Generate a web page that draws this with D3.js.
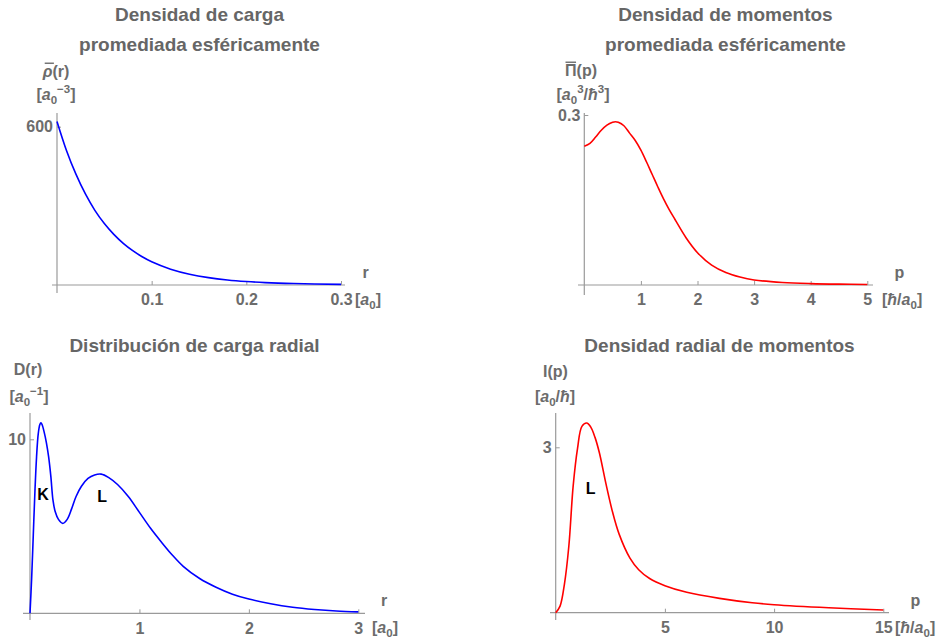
<!DOCTYPE html>
<html>
<head>
<meta charset="utf-8">
<script src="https://cdn.jsdelivr.net/npm/d3@7"></script>
<style>
  html, body { margin: 0; padding: 0; background: #fff; }
  svg { display: block; font-family: "Liberation Sans", Arial, Helvetica, sans-serif; font-weight: bold; }
</style>
</head>
<body>
<svg id="chart" width="941" height="642"></svg>
<script>
// Spherically averaged charge density  rho(r)  [a0^-3]
const rhoR   = [0, 0.01, 0.02, 0.03, 0.04, 0.05, 0.06, 0.07, 0.08, 0.09, 0.10, 0.12, 0.14, 0.16, 0.18, 0.20, 0.22, 0.25, 0.30];
const rhoVal = [620, 510, 420, 345, 283, 233, 192, 158, 130, 107, 88, 60, 41, 28, 19, 13, 9, 5.5, 2.5];

// Spherically averaged momentum density  Pi(p)  [a0^3/hbar^3]
const piP   = [0, 0.1, 0.2, 0.3, 0.4, 0.5, 0.55, 0.6, 0.7, 0.8, 0.9, 1.0, 1.1, 1.2, 1.3, 1.4, 1.5, 1.6, 1.8, 2.0, 2.25, 2.5, 2.75, 3.0, 3.5, 4.0, 4.5, 5.0];
const piVal = [0.245, 0.250, 0.261, 0.273, 0.282, 0.287, 0.288, 0.287, 0.281, 0.268, 0.255, 0.238, 0.217, 0.195, 0.173, 0.152, 0.133, 0.116, 0.083, 0.057, 0.035, 0.022, 0.014, 0.0088, 0.0045, 0.0025, 0.0015, 0.001];

// Radial charge distribution  D(r)  [a0^-1]
const dR   = [0, 0.015, 0.03, 0.045, 0.06, 0.075, 0.09, 0.10, 0.11, 0.13, 0.15, 0.17, 0.19, 0.21, 0.23, 0.26, 0.30, 0.34, 0.38, 0.42, 0.47, 0.53, 0.59, 0.65, 0.72, 0.80, 0.90, 1.0, 1.1, 1.2, 1.3, 1.4, 1.55, 1.7, 1.85, 2.0, 2.2, 2.4, 2.6, 2.8, 3.0];
const dVal = [0, 2.0, 4.5, 7.0, 9.0, 10.3, 10.85, 10.95, 10.85, 10.4, 9.8, 9.0, 7.9, 6.5, 5.85, 5.4, 5.17, 5.4, 6.0, 6.7, 7.3, 7.75, 7.95, 8.0, 7.8, 7.4, 6.7, 5.8, 4.9, 4.1, 3.35, 2.7, 2.0, 1.5, 1.1, 0.82, 0.55, 0.35, 0.22, 0.13, 0.08];

// Radial momentum density  I(p)  [a0/hbar]
const iP   = [0, 0.2, 0.4, 0.6, 0.8, 1.0, 1.2, 1.42, 1.6, 1.8, 2.0, 2.3, 2.6, 2.9, 3.4, 3.8, 4.3, 5.0, 6.0, 7.5, 9.0, 10.0, 12.5, 15.0];
const iVal = [0, 0.12, 0.52, 1.2, 2.3, 2.98, 3.38, 3.44, 3.37, 3.18, 2.9, 2.34, 1.83, 1.43, 0.99, 0.78, 0.62, 0.49, 0.37, 0.26, 0.18, 0.145, 0.09, 0.05];

// Tick values
const rhoXTicks = [0.1, 0.2, 0.3];
const rhoYTicks = [600];
const piXTicks  = [1, 2, 3, 4, 5];
const piYTicks  = [0.3];
const dXTicks   = [1, 2, 3];
const dYTicks   = [10];
const iXTicks   = [5, 10, 15];
const iYTicks   = [3];

// Shell labels
const dShells = [{ t: "K", r: 0.12, v: 6.5 }, { t: "L", r: 0.66, v: 6.4 }];
const iShells = [{ t: "L", p: 1.6, v: 2.15 }];

const svg = d3.select("#chart");
const TITLE = "#666666", LABEL = "#6c6c6c", AXIS = "#9a9a9a";

// Panel layouts
const panels = [
  { xs: rhoR, ys: rhoVal, color: "#0000ff", xDom: [0, 0.3], yDom: [0, 600], xRng: [57, 341], yRng: [285, 126.7],
    xTicks: rhoXTicks, yTicks: rhoYTicks, xFmt: d3.format(".1f"), yFmt: d3.format("d"),
    xLine: [52, 345], yLine: [113, 293],
    title: ["Densidad de carga", "promediada esféricamente"], titleX: 199.5, titleY: [21, 51],
    yName: [{ t: "ρ", it: true, over: true }, { t: "(r)" }], yNameX: 56, yNameY: 77,
    yUnit: [{ t: "[" }, { t: "a", it: true }, { t: "0", sub: true }, { t: "−3", sup: true }, { t: "]" }], yUnitX: 56, yUnitY: 100,
    xName: "r", xNameX: 365.5, xNameY: 278,
    xUnit: [{ t: "[" }, { t: "a", it: true }, { t: "0", sub: true }, { t: "]" }], xUnitX: 355, xUnitY: 305 },
  { xs: piP, ys: piVal, color: "#ff0000", xDom: [0, 5], yDom: [0, 0.3], xRng: [584.3, 867.3], yRng: [285, 115],
    xTicks: piXTicks, yTicks: piYTicks, xFmt: d3.format("d"), yFmt: d3.format(".1f"),
    xLine: [578, 873], yLine: [113, 295],
    title: ["Densidad de momentos", "promediada esféricamente"], titleX: 725.5, titleY: [21, 51],
    yName: [{ t: "Π", over: true }, { t: "(p)" }], yNameX: 581, yNameY: 76,
    yUnit: [{ t: "[" }, { t: "a", it: true }, { t: "0", sub: true }, { t: "3", sup: true }, { t: "/" }, { t: "ħ", it: true }, { t: "3", sup: true }, { t: "]" }], yUnitX: 583, yUnitY: 100,
    xName: "p", xNameX: 899.5, xNameY: 278,
    xUnit: [{ t: "[" }, { t: "ħ", it: true }, { t: "/" }, { t: "a", it: true }, { t: "0", sub: true }, { t: "]" }], xUnitX: 882, xUnitY: 305 },
  { xs: dR, ys: dVal, color: "#0000ff", xDom: [0, 3], yDom: [0, 10], xRng: [30, 358.3], yRng: [613.3, 439.3],
    xTicks: dXTicks, yTicks: dYTicks, xFmt: d3.format("d"), yFmt: d3.format("d"),
    xLine: [23, 365], yLine: [413, 620],
    title: ["Distribución de carga radial"], titleX: 194.5, titleY: [352],
    yName: [{ t: "D(r)" }], yNameX: 28, yNameY: 375,
    yUnit: [{ t: "[" }, { t: "a", it: true }, { t: "0", sub: true }, { t: "−1", sup: true }, { t: "]" }], yUnitX: 29, yUnitY: 402,
    xName: "r", xNameX: 384, xNameY: 606,
    xUnit: [{ t: "[" }, { t: "a", it: true }, { t: "0", sub: true }, { t: "]" }], xUnitX: 372, xUnitY: 633,
    shells: dShells.map(s => ({ t: s.t, x: s.r, y: s.v })) },
  { xs: iP, ys: iVal, color: "#ff0000", xDom: [0, 15], yDom: [0, 3], xRng: [555.7, 883.3], yRng: [612.7, 447.3],
    xTicks: iXTicks, yTicks: iYTicks, xFmt: d3.format("d"), yFmt: d3.format("d"),
    xLine: [550, 889], yLine: [413, 620],
    title: ["Densidad radial de momentos"], titleX: 719.5, titleY: [352],
    yName: [{ t: "I(p)" }], yNameX: 555.5, yNameY: 377,
    yUnit: [{ t: "[" }, { t: "a", it: true }, { t: "0", sub: true }, { t: "/" }, { t: "ħ", it: true }, { t: "]" }], yUnitX: 555, yUnitY: 402,
    xName: "p", xNameX: 915.5, xNameY: 606,
    xUnit: [{ t: "[" }, { t: "ħ", it: true }, { t: "/" }, { t: "a", it: true }, { t: "0", sub: true }, { t: "]" }], xUnitX: 895, xUnitY: 633,
    shells: iShells.map(s => ({ t: s.t, x: s.p, y: s.v })) }
];

// Rich text with italics, sub/superscripts and overlines
function richText(g, parts, x, y, size, anchor) {
  const text = g.append("text").attr("x", x).attr("y", y)
    .attr("fill", LABEL).attr("font-size", size).attr("text-anchor", anchor || "middle");
  let shift = 0;
  const overIdx = [];
  let charPos = 0;
  parts.forEach(p => {
    const ts = text.append("tspan").text(p.t);
    let target = 0, fs = size;
    if (p.sub) { target = size * 0.28; fs = size * 0.72; }
    if (p.sup) { target = -size * 0.42; fs = size * 0.72; }
    ts.attr("dy", target - shift).attr("font-size", fs);
    shift = target;
    if (p.it) ts.attr("font-style", "italic");
    if (p.over) overIdx.push(charPos);
    charPos += p.t.length;
  });
  overIdx.forEach(i => {
    const node = text.node();
    const s = node.getStartPositionOfChar(i), e = node.getEndPositionOfChar(i);
    g.append("line")
      .attr("x1", s.x + (parts[0].it ? 2 : 0.5)).attr("x2", e.x + (parts[0].it ? 1.5 : -0.5))
      .attr("y1", y - size * 0.86).attr("y2", y - size * 0.86)
      .attr("stroke", LABEL).attr("stroke-width", 1.4);
  });
  return text;
}

panels.forEach(P => {
  const g = svg.append("g");
  const x = d3.scaleLinear().domain(P.xDom).range(P.xRng);
  const y = d3.scaleLinear().domain(P.yDom).range(P.yRng);

  // axis lines
  const y0 = y(0), x0 = x(0);
  g.append("line").attr("x1", P.xLine[0]).attr("x2", P.xLine[1]).attr("y1", y0).attr("y2", y0)
    .attr("stroke", AXIS).attr("stroke-width", 1.2);
  g.append("line").attr("x1", x0).attr("x2", x0).attr("y1", P.yLine[0]).attr("y2", P.yLine[1])
    .attr("stroke", AXIS).attr("stroke-width", 1.2);

  // ticks and tick labels
  const xa = g.append("g").attr("transform", `translate(0,${y0})`)
    .call(d3.axisBottom(x).tickValues(P.xTicks).tickFormat(P.xFmt).tickSize(-4).tickPadding(9));
  const ya = g.append("g").attr("transform", `translate(${x0},0)`)
    .call(d3.axisLeft(y).tickValues(P.yTicks).tickFormat(P.yFmt).tickSize(-4).tickPadding(4));
  [xa, ya].forEach(a => {
    a.select(".domain").remove();
    a.selectAll("line").attr("stroke", AXIS).attr("stroke-width", 1);
    a.selectAll("text").attr("fill", LABEL).attr("font-size", 16)
      .attr("font-family", "Liberation Sans, Arial, sans-serif").attr("font-weight", "bold");
  });

  // curve
  const line = d3.line().x((d, i) => x(P.xs[i])).y(d => y(d)).curve(d3.curveCatmullRom.alpha(0.5));
  g.append("path").datum(P.ys).attr("d", line)
    .attr("fill", "none").attr("stroke", P.color).attr("stroke-width", 1.6);

  // titles
  P.title.forEach((t, i) => {
    g.append("text").attr("x", P.titleX).attr("y", P.titleY[i]).attr("text-anchor", "middle")
      .attr("fill", TITLE).attr("font-size", 19).text(t);
  });

  // axis names and units
  richText(g, P.yName, P.yNameX, P.yNameY, 16);
  richText(g, P.yUnit, P.yUnitX, P.yUnitY, 16);
  g.append("text").attr("x", P.xNameX).attr("y", P.xNameY).attr("text-anchor", "middle")
    .attr("fill", LABEL).attr("font-size", 16).text(P.xName);
  richText(g, P.xUnit, P.xUnitX, P.xUnitY, 16, "start");

  // shell labels
  (P.shells || []).forEach(s => {
    g.append("text").attr("x", x(s.x)).attr("y", y(s.y)).attr("text-anchor", "middle")
      .attr("fill", "#000").attr("font-size", 16).text(s.t);
  });
});
</script>
</body>
</html>
